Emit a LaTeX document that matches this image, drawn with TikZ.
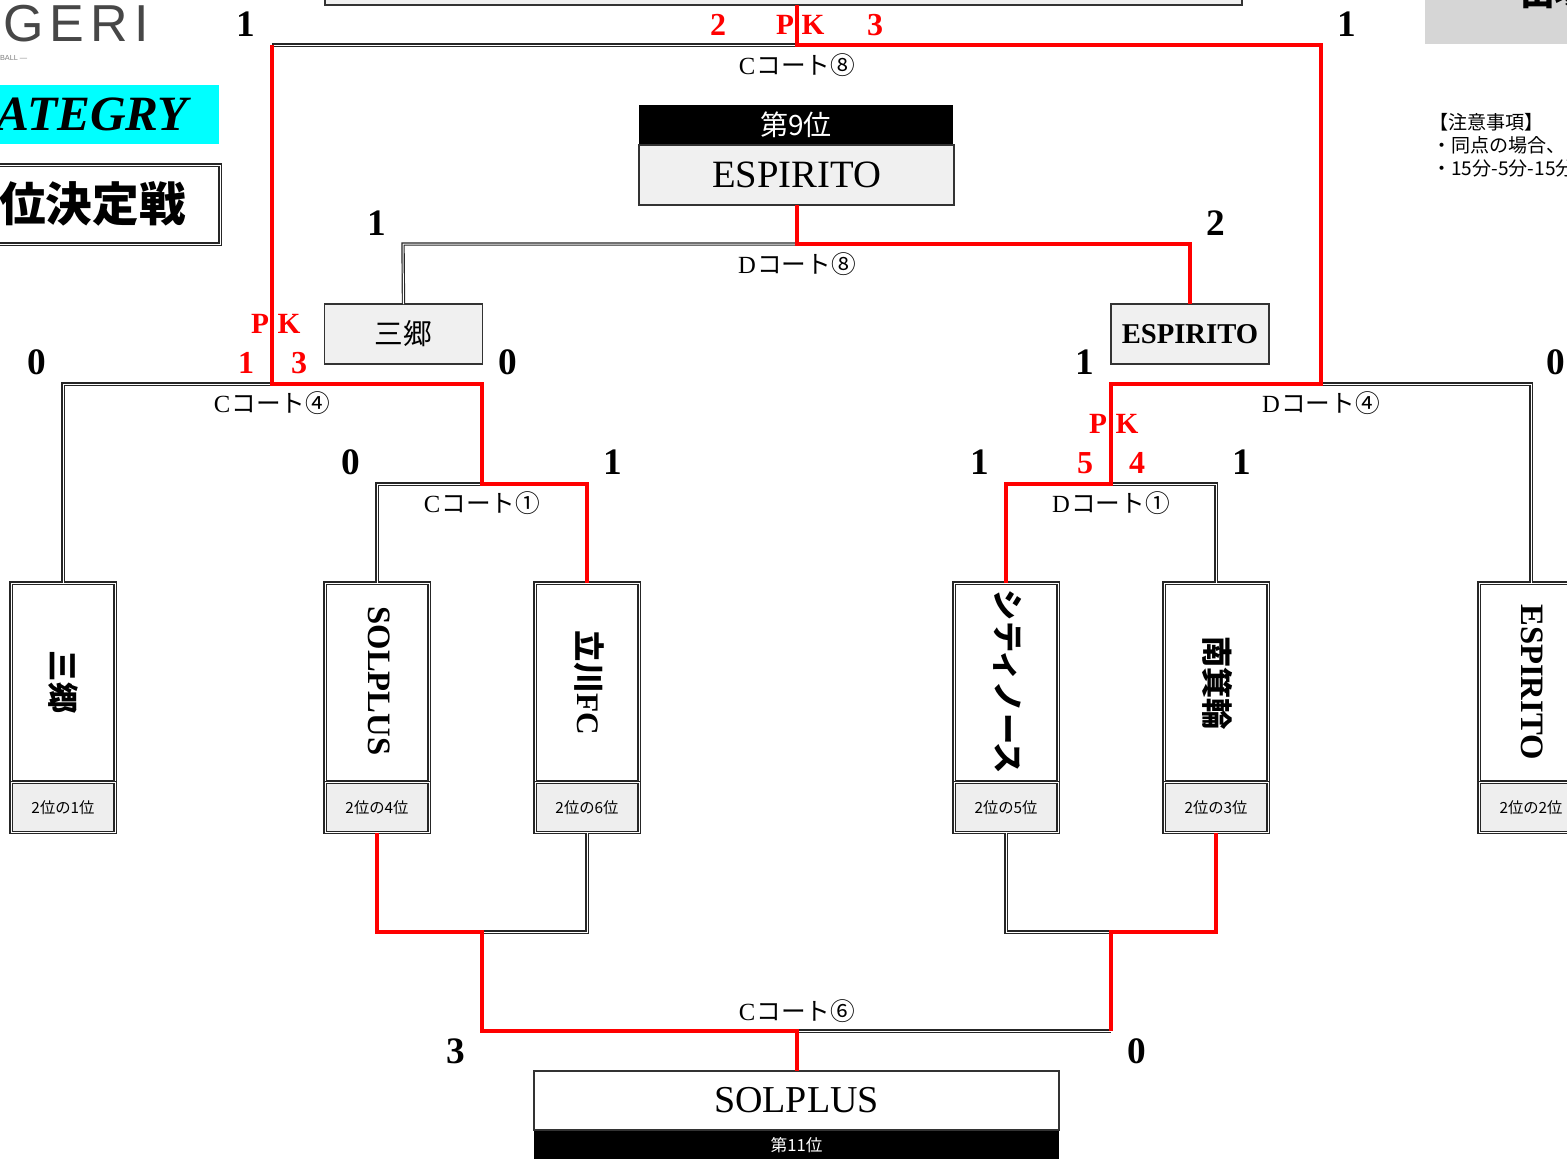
\documentclass[tikz,border=0pt]{standalone}
\usepackage{fontspec}
\setmainfont{Liberation Serif}
\setsansfont{Liberation Sans}
\newfontfamily\cjk{Noto Sans CJK JP}
\newcommand{\fs}[1]{\fontsize{#1}{#1}\selectfont}
\definecolor{boxgrey}{HTML}{F0F0F0}
\definecolor{footgrey}{HTML}{EEEEEE}
\definecolor{panelgrey}{HTML}{D6D6D6}
\definecolor{wred}{HTML}{FF0000}
\definecolor{cyanband}{HTML}{00FFFF}
\tikzset{
  pw/.style={minimum width=#1*0.75pt},
  ph/.style={minimum height=#1*0.75pt},
  tight/.style={inner sep=0pt,outer sep=0pt,anchor=center},
  dbl/.style={preaction={draw=black!85,line width=2.5pt},draw=white,line width=0.75pt},
  dblbox/.style={preaction={fill=#1},preaction={draw=black!85,line width=2.6pt},draw=white,line width=0.75pt},
  winline/.style={draw=wred,line width=3pt,miter limit=10},
  teambody/.style={tight,dblbox=white,pw=104,ph=199},
  teamfoot/.style={tight,dblbox=footgrey,pw=104,ph=50,font=\cjk\fs{11.5}},
  vname/.style={tight,rotate=-90,font=\bfseries\fs{24.5}},
  vjp/.style={tight,rotate=-90,font=\cjk\bfseries\fs{23.5}},
  flatbox/.style={tight,draw=black!80,line width=0.8pt,fill=boxgrey},
  score/.style={tight,font=\bfseries\fs{28}},
  rscore/.style={tight,text=wred,font=\bfseries\fs{24}},
  rletter/.style={tight,text=wred,font=\bfseries\fs{22}},
  court/.style={tight,font=\fs{18.5}},
  note/.style={inner sep=0pt,anchor=west,font=\cjk\fs{14.3}},
}
\begin{document}
\begin{tikzpicture}[x=0.75pt,y=-0.75pt]
\useasboundingbox (0,0) rectangle (1567,1158);
\clip (0,0) rectangle (1567,1158);
% --- left heading
\node[tight,anchor=west,text=black!72,font=\sffamily\fs{39}] (logo) at (3,24) {\addfontfeature{LetterSpace=12}GERI};
\node[tight,anchor=west,text=black!50,font=\sffamily\fs{5.5}] (logosub) at (0,58) {BALL ---};
\fill[cyanband] (0,85) rectangle (219,144);
\node[tight,anchor=west,font=\bfseries\itshape\fs{37}] (cat) at (-3,114) {ATEGRY};
\node[tight,dblbox=white,pw=240,ph=79] (stage) at (100,204.5) {};
\node[tight,anchor=west,font=\cjk\bfseries\fs{35}] (stagetxt) at (-1,204) {位決定戦};
% --- right panel
\fill[panelgrey] (1425,-5) rectangle (1570,44);
\node[tight,anchor=west,font=\cjk\bfseries\fs{26}] (paneltxt) at (1520,-7) {出場};
\node[note] (n1) at (1429,122) {【注意事項】};
\node[note] (n2) at (1432,145) {・同点の場合、};
\node[note] (n3) at (1432,168) {・15分-5分-15分};
% --- top final box
\node[flatbox,pw=917,ph=20] (topbox) at (783.5,-5) {};
% --- ninth place
\node[tight,fill=black,text=white,pw=314,ph=39,font=\cjk\fs{21}] (ninthhead) at (796,124.5) {第9位};
\node[flatbox,pw=315,ph=60,font=\fs{29}] (ninth) at (796.5,175) {ESPIRITO};
% --- semi boxes
\node[flatbox,pw=158,ph=60,font=\cjk\fs{21.5}] (sanA) at (403.5,334) {三郷};
\node[flatbox,pw=158,ph=60,font=\bfseries\fs{21.5}] (espA) at (1190,334) {ESPIRITO};
% --- team boxes
\foreach \nm/\cx/\rk in {a/63/1,b/377/4,c/587/6,d/1006/5,e/1216/3,f/1531/2}{
  \node[teambody] (\nm) at (\cx,682.5) {};
  \node[teamfoot] (\nm f) at (\cx,807.5) {2位の\rk 位};
}
\node[vjp] (at) at (63,682) {三郷};
\node[vname] (bt) at (379,681) {SOLPLUS};
\node[vjp] (ct) at (589,683) {立川\textrm{FC}};
\node[vjp] (dt) at (1008,682) {シティノース};
\node[vjp] (et) at (1218,683) {南箕輪};
\node[vname] (ft) at (1532,682) {ESPIRITO};
% --- bottom box
\node[flatbox,fill=white,pw=525,ph=59,font=\fs{28.5}] (eleventh) at (796.5,1100.5) {SOLPLUS};
\node[tight,fill=black,text=white,pw=525,ph=28,font=\cjk\fs{12.5}] (eleventhhead) at (796.5,1145) {\raisebox{-2pt}{第11位}};
% --- junction coordinates
\coordinate (j1) at (482,484); \coordinate (j1l) at (377,484); \coordinate (j1r) at (587,484);
\coordinate (j2) at (1111,484); \coordinate (j2l) at (1006,484); \coordinate (j2r) at (1216,484);
\coordinate (j3) at (272,384); \coordinate (j3l) at (63,384); \coordinate (j3r) at (482,384);
\coordinate (j4) at (1321,384); \coordinate (j4l) at (1111,384); \coordinate (j4r) at (1531,384);
\coordinate (j5) at (797,45); \coordinate (j5l) at (272,45); \coordinate (j5r) at (1321,45);
\coordinate (j6) at (797,244); \coordinate (j6l) at (403,244); \coordinate (j6r) at (1190,244);
\coordinate (j7) at (482,932); \coordinate (j7l) at (377,932); \coordinate (j7r) at (587,932);
\coordinate (j8) at (1111,932); \coordinate (j8l) at (1006,932); \coordinate (j8r) at (1216,932);
\coordinate (j9) at (797,1031); \coordinate (j9l) at (482,1031); \coordinate (j9r) at (1111,1031);
% --- losing (double) connectors
\draw[dbl] (b.north) -- (j1l) -- (j1);
\draw[dbl] (j2) -- (j2r) -- (e.north);
\draw[dbl] (a.north) -- (j3l) -- (j3);
\draw[dbl] (j4) -- (j4r) -- (f.north);
\draw[dbl] (j5l) -- (j5);
\draw[dbl] (sanA.north) -- (j6l) -- (j6);
\draw[dbl] (cf.south) -- (j7r) -- (j7);
\draw[dbl] (df.south) -- (j8l) -- (j8);
\draw[dbl] (j9) -- (j9r);
% --- winning (red) connectors
\draw[winline] (c.north) -- (j1r) -- (j1) -- (j3r) -- (j3) -- (j5l);
\draw[winline] (d.north) -- (j2l) -- (j2) -- (j4l) -- (j4) -- (j5r) -- (j5) -- (j5 |- topbox.south);
\draw[winline] (espA.north) -- (j6r) -- (j6) -- (j6 |- ninth.south);
\draw[winline] (bf.south) -- (j7l) -- (j7) -- (j9l) -- (j9) -- (j9 |- eleventh.north);
\draw[winline] (ef.south) -- (j8r) -- (j8) -- (j9r);
% --- court labels
\node[court] (c8) at (797,65) {C\kern1pt{\cjk コート⑧}};
\node[court] (d8) at (797,264) {D\kern1pt{\cjk コート⑧}};
\node[court] (c4) at (272,403) {C\kern1pt{\cjk コート④}};
\node[court] (d4) at (1321,403) {D\kern1pt{\cjk コート④}};
\node[court] (c1) at (482,503) {C\kern1pt{\cjk コート①}};
\node[court] (d1) at (1111,503) {D\kern1pt{\cjk コート①}};
\node[court] (c6) at (797,1011) {C\kern1pt{\cjk コート⑥}};
% --- scores
\node[score] (s01) at (246,24) {1};
\node[score] (s02) at (1347,24) {1};
\node[score] (s03) at (377,223) {1};
\node[score] (s04) at (1216,223) {2};
\node[score] (s05) at (37,362) {0};
\node[score] (s06) at (508,362) {0};
\node[score] (s07) at (1085,362) {1};
\node[score] (s08) at (1556,362) {0};
\node[score] (s09) at (351,462) {0};
\node[score] (s10) at (613,462) {1};
\node[score] (s11) at (980,462) {1};
\node[score] (s12) at (1242,462) {1};
\node[score] (s13) at (456,1051) {3};
\node[score] (s14) at (1137,1051) {0};
% --- red PK scores
\node[rscore] (r01) at (718,25) {2};
\node[rletter] (r02) at (785,25) {P};
\node[rletter] (r03) at (813,25) {K};
\node[rscore] (r04) at (875,25) {3};
\node[rletter] (r05) at (260,324) {P};
\node[rletter] (r06) at (289,324) {K};
\node[rscore] (r07) at (246,363) {1};
\node[rscore] (r08) at (299,363) {3};
\node[rletter] (r09) at (1098,424) {P};
\node[rletter] (r10) at (1127,424) {K};
\node[rscore] (r11) at (1085,463) {5};
\node[rscore] (r12) at (1137,463) {4};
\end{tikzpicture}
\end{document}
